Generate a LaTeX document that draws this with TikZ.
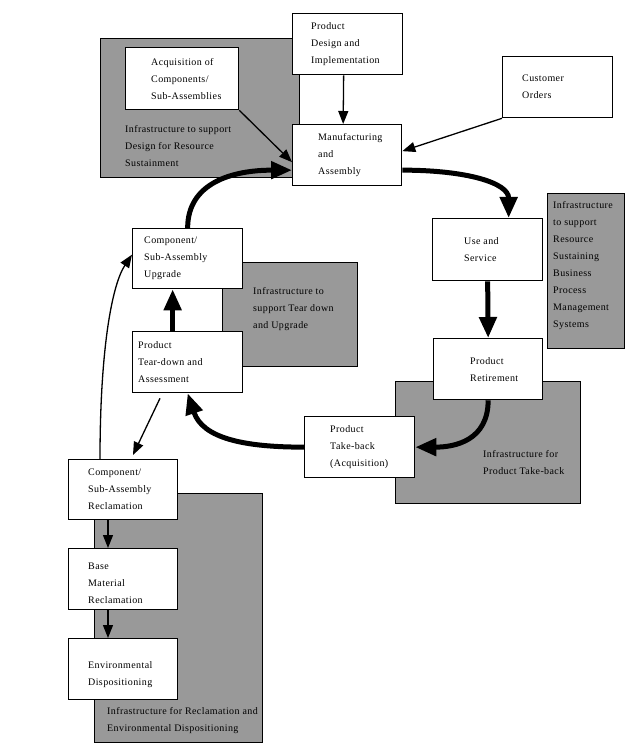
\documentclass[tikz,border=0pt]{standalone}
\usepackage{fontspec}
\setmainfont[LetterSpace=4]{Liberation Serif}
\usetikzlibrary{arrows.meta}
\begin{document}
\begin{tikzpicture}[x=1pt,y=-1pt,
  box/.style={draw=black, fill=white, line width=1.3pt, inner sep=0pt, anchor=north west},
  infra/.style={draw=black, fill=black!40, line width=1.3pt, inner sep=0pt, anchor=north west},
  txt/.style={font=\fontsize{10}{17}\selectfont, align=left, inner sep=0pt, anchor=west},
  thin/.style={line width=1.3pt, -{Triangle[length=13pt,width=10pt]}},
  thick/.style={line width=5pt, -{Triangle[length=21pt,width=17pt]}}]
\useasboundingbox (0,0) rectangle (641,751);
\fill[white] (0,0) rectangle (641,751);
% infrastructure areas
\node[infra, minimum width=199pt, minimum height=139pt] (g1) at (100,38) {};
\node[infra, minimum width=77pt, minimum height=155pt] (g2) at (547,193) {};
\node[infra, minimum width=135pt, minimum height=104pt] (g3) at (222,262) {};
\node[infra, minimum width=185pt, minimum height=122pt] (g4) at (395,381) {};
\node[infra, minimum width=168pt, minimum height=249pt] (g5) at (94,493) {};
\node[txt] (g1t) at (125,146) {Infrastructure to support\\Design for Resource\\Sustainment};
\node[txt] (g2t) at (553,265.5) {Infrastructure\\to support\\Resource\\Sustaining\\Business\\Process\\Management\\Systems};
\node[txt] (g3t) at (253,309) {Infrastructure to\\support Tear down\\and Upgrade};
\node[txt] (g4t) at (483,462.5) {Infrastructure for\\Product Take-back};
\node[txt] (g5t) at (107,720.5) {Infrastructure for Reclamation and\\Environmental Dispositioning};
% boxes
\node[box, minimum width=110pt, minimum height=61pt] (pdi) at (292,13) {};
\node[box, minimum width=113pt, minimum height=62pt] (acq) at (125,47) {};
\node[box, minimum width=109pt, minimum height=61pt] (ma) at (292,124) {};
\node[box, minimum width=110pt, minimum height=61pt] (cust) at (502,56) {};
\node[box, minimum width=110pt, minimum height=62pt] (use) at (432,218) {};
\node[box, minimum width=109pt, minimum height=61pt] (ret) at (433,338) {};
\node[box, minimum width=110pt, minimum height=61pt] (tb) at (304,416) {};
\node[box, minimum width=110pt, minimum height=60pt] (upg) at (132,228) {};
\node[box, minimum width=110pt, minimum height=61pt] (tear) at (132,331) {};
\node[box, minimum width=109pt, minimum height=60pt] (recl) at (68,459) {};
\node[box, minimum width=109pt, minimum height=61pt] (base) at (68,548) {};
\node[box, minimum width=109pt, minimum height=61pt] (env) at (68,638) {};
% box texts
\node[txt] (pdit) at ([xshift=19pt]pdi.west) {Product\\Design and\\Implementation};
\node[txt] (acqt) at ([xshift=26pt]acq.west) {Acquisition of\\Components/\\Sub-Assemblies};
\node[txt] (mat) at ([xshift=26pt]ma.west) {Manufacturing\\and\\Assembly};
\node[txt] (custt) at ([xshift=20pt]cust.west) {Customer\\Orders};
\node[txt] (uset) at ([xshift=32pt]use.west) {Use and\\Service};
\node[txt] (rett) at ([xshift=37pt]ret.west) {Product\\Retirement};
\node[txt] (tbt) at ([xshift=26pt]tb.west) {Product\\Take-back\\(Acquisition)};
\node[txt] (upgt) at ([xshift=12pt]upg.west) {Component/\\Sub-Assembly\\Upgrade};
\node[txt] (teart) at ([xshift=6pt]tear.west) {Product\\Tear-down and\\Assessment};
\node[txt] (reclt) at ([xshift=20pt]recl.west) {Component/\\Sub-Assembly\\Reclamation};
\node[txt] (baset) at ([xshift=20pt,yshift=-4pt]base.west) {Base\\Material\\Reclamation};
\node[txt] (envt) at ([xshift=20pt]env.west) {\mbox{}\\Environmental\\Dispositioning};
% thin connectors
\draw[thin] ([xshift=-4pt]pdi.south) -- ([xshift=-4pt]ma.north);
\draw[thin] (acq.south east) -- ([yshift=-7pt]ma.west);
\draw[thin] (cust.south west) -- ([yshift=4pt]ma.east);
\draw[thin] ([xshift=28pt,yshift=-5pt]tear.south west) -- ([xshift=65pt,yshift=4pt]recl.north west);
\draw[thin] ([xshift=32pt]recl.north west) .. controls +(0,-110) and +(-20,30) .. ([yshift=4pt]upg.west);
\draw[thin] ([xshift=40pt]recl.south west) -- ([xshift=40pt]base.north west);
\draw[thin] ([xshift=40pt]base.south west) -- ([xshift=40pt]env.north west);
% thick cycle
\draw[thick] (upg.north) .. controls +(0,-45) and +(-60,0) .. ([yshift=-15pt]ma.west);
\draw[thick] ([yshift=-15pt]ma.east) .. controls +(65,0) and +(0,-35) .. ([xshift=21pt]use.north);
\draw[thick] (use.south) -- (ret.north);
\draw[thick] (ret.south) .. controls +(0,40) and +(40,0) .. (tb.east);
\draw[thick] (tb.west) .. controls +(-60,0) and +(15,45) .. (tear.south);
\draw[thick] ([xshift=-15pt]tear.north) -- ([xshift=-15pt]upg.south);
\end{tikzpicture}
\end{document}
